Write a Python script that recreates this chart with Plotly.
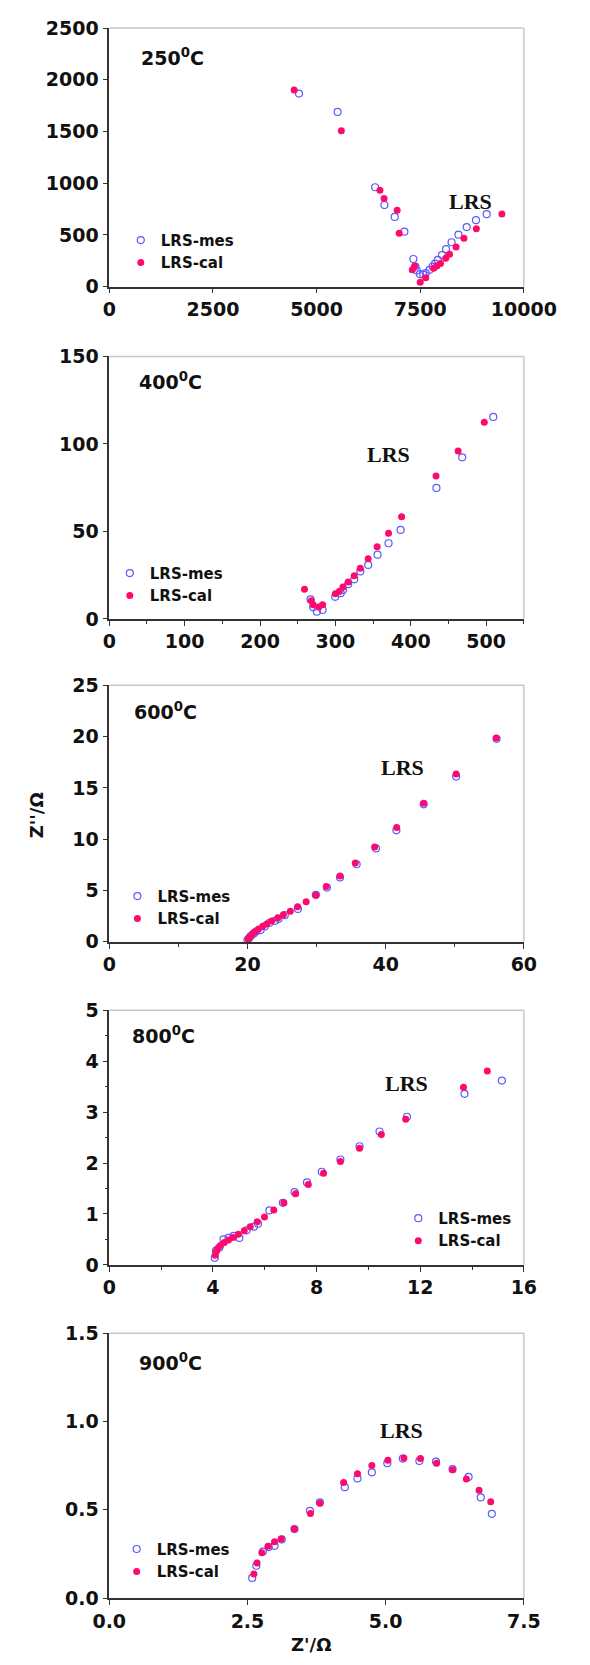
import plotly.graph_objects as go

# ---------------- data ----------------
panel_labels = ["250<sup>0</sup>C", "400<sup>0</sup>C", "600<sup>0</sup>C", "800<sup>0</sup>C", "900<sup>0</sup>C"]

mes_x_250 = [4576, 5507, 6412, 6636, 6885, 7118, 7334, 7384, 7417, 7492, 7575, 7633, 7724, 7799, 7857, 7924, 8023, 8123, 8256, 8422, 8621, 8845, 9103]
mes_y_250 = [1867, 1689, 961, 789, 674, 531, 267, 194, 156, 121, 115, 130, 162, 194, 223, 258, 305, 363, 429, 502, 576, 642, 700]
cal_x_250 = [4460, 5598, 6528, 6628, 6944, 6993, 7367, 7309, 7500, 7633, 7824, 7900, 7990, 8115, 8206, 8364, 8555, 8854, 9470]
cal_y_250 = [1902, 1508, 932, 852, 738, 515, 200, 162, 41, 86, 178, 200, 223, 274, 312, 382, 468, 560, 702]

mes_x_400 = [267, 270.5, 275.5, 283, 299.7, 307, 310, 317, 325, 333, 343.5, 355.9, 370.5, 386.5, 434, 468.2, 509.4]
mes_y_400 = [11.1, 6.6, 4.1, 5.1, 12.6, 14.7, 16.5, 19.9, 22.6, 27.1, 30.8, 36.7, 43.2, 50.8, 74.8, 92.3, 115.4]
cal_x_400 = [259, 268, 270.5, 278, 283, 300, 305, 310, 317, 325, 333, 343.5, 355.4, 370.5, 387.8, 433.5, 462.8, 497.5]
cal_y_400 = [16.9, 10.3, 8.1, 6.8, 8.1, 14.3, 15.6, 18.2, 21.0, 24.6, 28.9, 34.4, 41.2, 48.9, 58.3, 81.6, 95.9, 112.4]

mes_x_600 = [20.0, 20.2, 20.5, 20.9, 21.3, 21.9, 22.5, 23.2, 24.0, 24.5, 25.4, 27.3, 29.9, 31.5, 33.4, 35.8, 38.6, 41.55, 45.5, 50.2, 56.05]
mes_y_600 = [0.16, 0.35, 0.58, 0.82, 1.02, 1.15, 1.5, 1.85, 2.05, 2.24, 2.6, 3.21, 4.58, 5.29, 6.28, 7.56, 9.1, 10.87, 13.4, 16.1, 19.78]
cal_x_600 = [20.1, 20.3, 20.7, 21.1, 21.6, 22.2, 22.8, 23.5, 24.4, 25.2, 26.2, 27.25, 28.5, 29.9, 31.4, 33.4, 35.6, 38.4, 41.6, 45.5, 50.2, 56.0]
cal_y_600 = [0.26, 0.48, 0.74, 0.99, 1.25, 1.51, 1.73, 2.02, 2.34, 2.63, 2.98, 3.43, 3.91, 4.55, 5.38, 6.41, 7.69, 9.23, 11.15, 13.5, 16.35, 19.87]

mes_x_800 = [4.07, 4.12, 4.25, 4.41, 4.60, 4.80, 5.02, 5.30, 5.58, 5.74, 6.18, 6.70, 7.15, 7.63, 8.20, 8.92, 9.66, 10.43, 11.49, 13.71, 15.15]
mes_y_800 = [0.14, 0.28, 0.34, 0.50, 0.53, 0.57, 0.53, 0.68, 0.75, 0.81, 1.07, 1.22, 1.43, 1.62, 1.83, 2.07, 2.33, 2.62, 2.91, 3.36, 3.62]
cal_x_800 = [4.09, 4.12, 4.19, 4.29, 4.44, 4.60, 4.78, 4.98, 5.21, 5.44, 5.71, 5.99, 6.35, 6.74, 7.19, 7.68, 8.27, 8.92, 9.66, 10.50, 11.44, 13.67, 14.59]
cal_y_800 = [0.19, 0.26, 0.32, 0.38, 0.44, 0.49, 0.54, 0.60, 0.67, 0.75, 0.85, 0.94, 1.08, 1.22, 1.40, 1.58, 1.80, 2.03, 2.29, 2.56, 2.86, 3.49, 3.81]

mes_x_900 = [2.586, 2.66, 2.78, 2.885, 2.99, 3.12, 3.35, 3.63, 3.81, 4.26, 4.49, 4.75, 5.03, 5.31, 5.61, 5.91, 6.21, 6.50, 6.72, 6.92]
mes_y_900 = [0.114, 0.183, 0.263, 0.289, 0.296, 0.332, 0.391, 0.494, 0.542, 0.628, 0.678, 0.712, 0.764, 0.790, 0.777, 0.773, 0.730, 0.686, 0.570, 0.477]
cal_x_900 = [2.617, 2.673, 2.76, 2.872, 2.99, 3.11, 3.35, 3.64, 3.81, 4.24, 4.49, 4.75, 5.04, 5.33, 5.63, 5.92, 6.21, 6.46, 6.69, 6.90]
cal_y_900 = [0.136, 0.198, 0.257, 0.294, 0.319, 0.335, 0.391, 0.479, 0.537, 0.654, 0.704, 0.751, 0.781, 0.794, 0.790, 0.764, 0.727, 0.674, 0.611, 0.546]

x_ranges = [[0, 10000], [0, 550], [0, 60], [0, 16], [0, 7.5]]
y_ranges = [[0, 2500], [0, 150], [0, 25], [0, 5], [0, 1.5]]
x_dticks = [2500, 100, 20, 4, 2.5]
y_dticks = [500, 50, 5, 1, 0.5]
x_formats = ["d", "d", "d", "d", ".1f"]
y_formats = ["d", "d", "d", "d", ".1f"]
lrs_pos = [(8704, 827), (371, 94), (42.5, 17.0), (11.47, 3.57), (5.28, 0.947)]

mes_sets = [(mes_x_250, mes_y_250), (mes_x_400, mes_y_400), (mes_x_600, mes_y_600), (mes_x_800, mes_y_800), (mes_x_900, mes_y_900)]
cal_sets = [(cal_x_250, cal_y_250), (cal_x_400, cal_y_400), (cal_x_600, cal_y_600), (cal_x_800, cal_y_800), (cal_x_900, cal_y_900)]

# ---------------- layout geometry ----------------
W, H = 590, 1665
x_dom = [100.8 / W, 553.8 / W]
panel_px = [(17.3, 279.3), (350, 616), (683.3, 943.3), (1012.7, 1270.7), (1340, 1608.3)]
label_pos = [(0.072, 0.89), (0.068, 0.905), (0.054, 0.90), (0.051, 0.905), (0.068, 0.89)]
legend_pos = [(113.4, 243.5), (101.4, 581), (109.7, 908.3), (416.6, 1234.7), (108.9, 1570)]

BLUE = "#5a5aff"
PINK = "#ff0a6c"
AX = "#333333"
TICKFONT = dict(family="DejaVu Sans", size=19, color="#111111", weight="bold")

fig = go.Figure()
layout = dict(width=W, height=H, margin=dict(l=0, r=0, t=0, b=0),
              paper_bgcolor="white", plot_bgcolor="white", showlegend=True)
annotations = []
shapes = []

for i in range(5):
    n = "" if i == 0 else str(i + 1)
    xa, ya = "x" + n, "y" + n
    leg = "legend" + n
    top, bot = panel_px[i]
    y_dom = [1 - bot / H, 1 - top / H]
    common = dict(showline=True, linecolor=AX, linewidth=1.5, ticks="outside", ticklen=5,
                  tickwidth=1.3, tickcolor=AX, showgrid=False, zeroline=False,
                  tickfont=TICKFONT, fixedrange=True,
                  minor=dict(ticks="outside", ticklen=3, tickwidth=1.2, tickcolor=AX, nticks=2))
    layout["xaxis" + n] = dict(domain=x_dom, anchor=ya, range=x_ranges[i], tick0=0,
                               dtick=x_dticks[i], tickformat=x_formats[i], **common)
    layout["yaxis" + n] = dict(domain=y_dom, anchor=xa, range=y_ranges[i], tick0=0,
                               dtick=y_dticks[i], tickformat=y_formats[i], **common)
    lx, ly = legend_pos[i]
    layout[leg] = dict(x=lx / W, y=1 - ly / H, xanchor="left", yanchor="middle",
                       bgcolor="rgba(0,0,0,0)", borderwidth=0, tracegroupgap=0,
                       font=dict(family="DejaVu Sans", size=15, color="#111111", weight="bold"))
    mx, my = mes_sets[i]
    cx, cy = cal_sets[i]
    fig.add_trace(go.Scatter(x=mx, y=my, mode="markers", name="LRS-mes", xaxis=xa, yaxis=ya,
                             legend=leg, cliponaxis=False,
                             marker=dict(symbol="circle-open", size=7, color=BLUE, line=dict(width=1.2, color=BLUE))))
    fig.add_trace(go.Scatter(x=cx, y=cy, mode="markers", name="LRS-cal", xaxis=xa, yaxis=ya,
                             legend=leg, cliponaxis=False,
                             marker=dict(symbol="circle", size=7, color=PINK)))
    # light top/right frame
    shapes.append(dict(type="line", xref=xa + " domain", yref=ya + " domain", x0=0, x1=1, y0=1, y1=1,
                       line=dict(color="#c8c8c8", width=1.5)))
    shapes.append(dict(type="line", xref=xa + " domain", yref=ya + " domain", x0=1, x1=1, y0=0, y1=1,
                       line=dict(color="#c8c8c8", width=1.5)))
    lab_x, lab_y = label_pos[i]
    annotations.append(dict(text=panel_labels[i], xref=xa + " domain", yref=ya + " domain",
                            x=lab_x, y=lab_y, xanchor="left", yanchor="middle", showarrow=False,
                            font=dict(family="DejaVu Sans", size=19, color="#111111", weight="bold")))
    px_, py_ = lrs_pos[i]
    annotations.append(dict(text="LRS", xref=xa, yref=ya, x=px_, y=py_, showarrow=False,
                            xanchor="center", yanchor="middle",
                            font=dict(family="Liberation Serif", size=22, color="#111111", weight="bold")))

annotations.append(dict(text="Z''/Ω", xref="paper", yref="paper", x=20.8 / W, y=1 - 815 / H,
                        textangle=-90, showarrow=False, xanchor="center", yanchor="middle",
                        font=dict(family="DejaVu Sans", size=18, color="#111111", weight="bold")))
annotations.append(dict(text="Z'/Ω", xref="paper", yref="paper", x=321 / W, y=1 - 1655 / H,
                        showarrow=False, xanchor="center", yanchor="middle",
                        font=dict(family="DejaVu Sans", size=18, color="#111111", weight="bold")))

layout["annotations"] = annotations
layout["shapes"] = shapes
fig.update_layout(**layout)
fig.write_html("out.html")
